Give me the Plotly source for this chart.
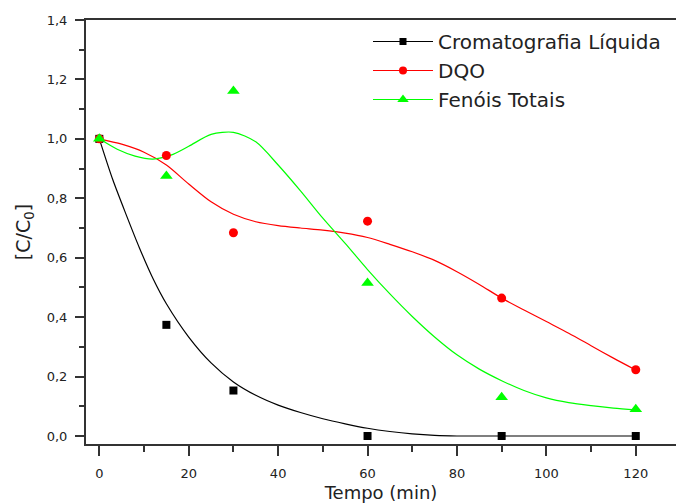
import plotly.graph_objects as go

# ---- data ----
tempo = [0, 15, 30, 60, 90, 120]
cromatografia = [1.0, 0.374, 0.153, 0.0, 0.0, 0.0]
dqo = [1.0, 0.944, 0.684, 0.723, 0.464, 0.223]
fenois = [1.0, 0.875, 1.161, 0.515, 0.130, 0.090]

# fitted (smoothed) curves as drawn in the reference
fit_crom_t = [0, 3, 6, 9, 12, 15, 20, 25, 30, 35, 40, 45, 50, 55, 60, 65, 70, 75, 80, 90, 100, 110, 120]
fit_crom_v = [1.0, 0.863, 0.745, 0.632, 0.53, 0.445, 0.333, 0.246, 0.182, 0.137, 0.104, 0.079, 0.058,
              0.041, 0.026, 0.015, 0.007, 0.002, 0.0, 0.0, 0.0, 0.0, 0.0]
fit_dqo_t = [0, 5, 10, 15, 20, 25, 30, 35, 40, 45, 50, 55, 60, 65, 70, 75, 80, 85, 90, 95, 100,
             105, 110, 115, 120]
fit_dqo_v = [1.0, 0.982, 0.955, 0.912, 0.848, 0.788, 0.746, 0.721, 0.708, 0.70, 0.693, 0.683, 0.668,
             0.645, 0.62, 0.591, 0.553, 0.51, 0.464, 0.424, 0.385, 0.346, 0.304, 0.262, 0.222]
fit_fen_t = [0, 4, 8, 12, 16, 20, 25, 30, 35, 40, 45, 50, 55, 60, 65, 70, 75, 80, 85, 90, 95, 100,
             105, 110, 115, 120]
fit_fen_v = [1.0, 0.965, 0.942, 0.932, 0.945, 0.975, 1.015, 1.022, 0.99, 0.912, 0.825, 0.733, 0.648,
             0.56, 0.478, 0.402, 0.333, 0.273, 0.225, 0.186, 0.153, 0.128, 0.112, 0.102, 0.094, 0.088]

names = ["Cromatografia Líquida", "DQO", "Fenóis Totais"]
colors = ["#000000", "#FF0000", "#00FF00"]
symbols = ["square", "circle", "triangle-up"]
sizes = [8, 9, 11]

FONT = "DejaVu Sans"
XRANGE = [-2.98, 129.0]

fig = go.Figure()
series = [cromatografia, dqo, fenois]
fits = [(fit_crom_t, fit_crom_v), (fit_dqo_t, fit_dqo_v), (fit_fen_t, fit_fen_v)]

for i in range(3):
    ft, fv = fits[i]
    fig.add_trace(go.Scatter(x=ft, y=fv, mode="lines",
                             line=dict(color=colors[i], width=1.2, shape="spline", smoothing=0.8),
                             showlegend=False, hoverinfo="skip"))
for i in range(3):
    fig.add_trace(go.Scatter(x=tempo, y=series[i], mode="markers",
                             marker=dict(color=colors[i], symbol=symbols[i], size=sizes[i], line=dict(width=0)),
                             showlegend=False))
# legend entries (line + marker), placed on the label axis
for i in range(3):
    fig.add_trace(go.Scatter(x=[None], y=[None], mode="lines+markers", name=names[i],
                             legendgroup=names[i], xaxis="x2",
                             line=dict(color=colors[i], width=1.2),
                             marker=dict(color=colors[i], symbol=symbols[i], size=sizes[i] - 1)))

fig.update_layout(
    width=676, height=504,
    margin=dict(l=86, r=0, t=20, b=60),
    paper_bgcolor="white", plot_bgcolor="white",
    separators=", ",
    font=dict(family=FONT, size=13, color="#222222"),
    legend=dict(x=(368 - 86) / 590, y=(444 - 22) / 424, xanchor="left", yanchor="top",
                font=dict(family=FONT, size=20, color="#222222"),
                bgcolor="rgba(0,0,0,0)", itemwidth=60, tracegroupgap=6, traceorder="normal"),
    xaxis=dict(range=XRANGE, showgrid=False, zeroline=False, automargin=False,
               showline=True, linecolor="#333333", linewidth=2, mirror=True,
               ticks="outside", ticklen=10, tickwidth=2, tickcolor="#333333",
               tick0=0, dtick=20, showticklabels=False,
               minor=dict(ticks="outside", ticklen=6, tickwidth=2, tickcolor="#333333", dtick=10, tick0=0)),
    xaxis2=dict(range=XRANGE, overlaying="x", anchor="y", side="bottom",
                showgrid=False, zeroline=False, automargin=False, showline=False,
                ticks="outside", ticklen=17, tickwidth=1, tickcolor="rgba(0,0,0,0)",
                tick0=0, dtick=20, tickfont=dict(size=13),
                title=dict(text="Tempo (min)", font=dict(family=FONT, size=18, color="#222222"), standoff=6)),
    yaxis=dict(range=[-0.027, 1.4], showgrid=False, zeroline=False, automargin=False,
               showline=True, linecolor="#333333", linewidth=2, mirror=False,
               ticks="outside", ticklen=9, tickwidth=2, tickcolor="#333333",
               tick0=0, dtick=0.2, tickformat=".1f", tickfont=dict(size=13), ticklabelstandoff=5,
               minor=dict(ticks="outside", ticklen=5, tickwidth=2, tickcolor="#333333", dtick=0.1, tick0=0),
               title=dict(text="[C/C<sub>0</sub>]", font=dict(family=FONT, size=19, color="#222222"), standoff=11)),
)

fig.write_html("out.html", config={"displayModeBar": False},
               post_script="document.body.style.margin='0';")
